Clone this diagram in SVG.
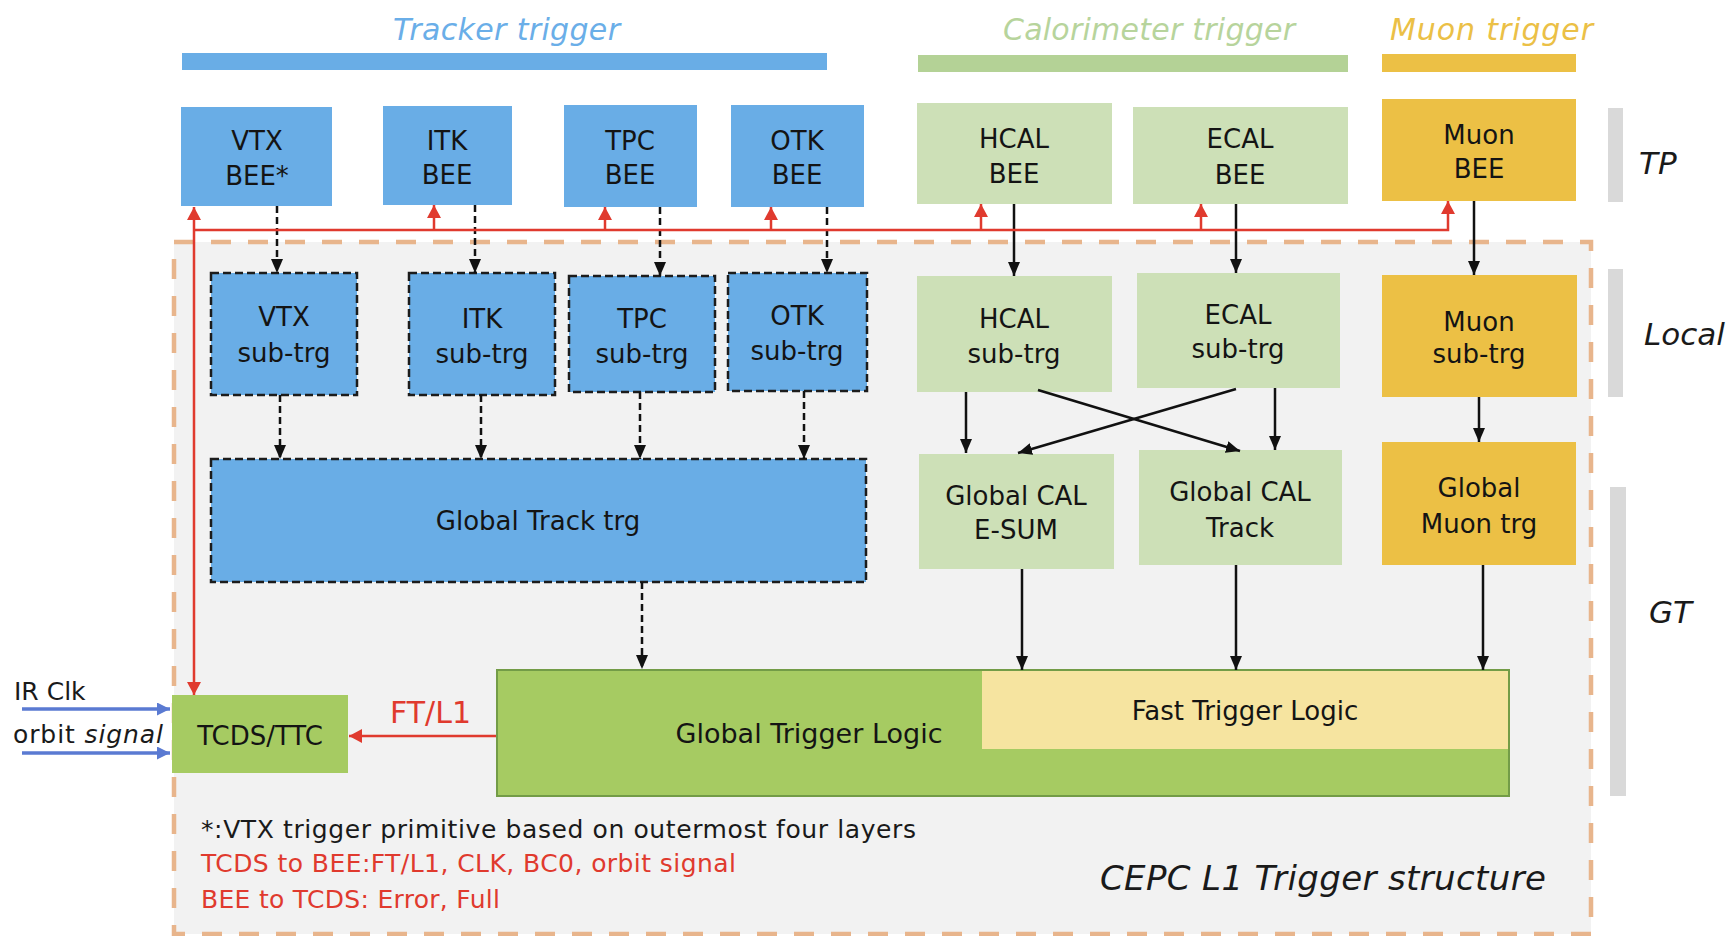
<svg xmlns="http://www.w3.org/2000/svg" width="1731" height="936" viewBox="0 0 1731 936">
  <style>
    .trk { fill: #69ade6; }
    .cal { fill: #cde0b7; }
    .muon { fill: #ecc045; }
    .grn { fill: #a6cb62; }
    .sub { stroke: #1c1c1c; stroke-width: 2.5; stroke-dasharray: 8 4; }
    .lbl { font-family: "DejaVu Sans", "Liberation Sans", sans-serif; font-size: 26px; fill: #141414; text-anchor: middle; }
    .title { font-family: "DejaVu Sans", "Liberation Sans", sans-serif; font-size: 30px; font-style: italic; }
    .side { font-family: "DejaVu Sans", "Liberation Sans", sans-serif; font-size: 31px; font-style: italic; fill: #1a1a1a; }
    .note { font-family: "DejaVu Sans", "Liberation Sans", sans-serif; font-size: 25px; }
    .solid { stroke: #111; stroke-width: 2.5; fill: none; marker-end: url(#ahBlack); }
    .dashed { stroke: #111; stroke-width: 2.5; fill: none; stroke-dasharray: 7 4; marker-end: url(#ahBlack); }
    .red { stroke: #e03a2e; stroke-width: 2.5; fill: none; }
    .blue { stroke: #5a7ad2; stroke-width: 3.5; fill: none; marker-end: url(#ahBlue); }
  </style>
  <defs>
    <marker id="ahBlack" viewBox="0 0 14 12" refX="14" refY="6" markerWidth="14" markerHeight="12" markerUnits="userSpaceOnUse" orient="auto">
      <path d="M0,0 L14,6 L0,12 Z" fill="#111"/>
    </marker>
    <marker id="ahRed" viewBox="0 0 13 14" refX="13" refY="7" markerWidth="13" markerHeight="14" markerUnits="userSpaceOnUse" orient="auto-start-reverse">
      <path d="M0,0 L13,7 L0,14 Z" fill="#e03a2e"/>
    </marker>
    <marker id="ahBlue" viewBox="0 0 13 13" refX="13" refY="6.5" markerWidth="13" markerHeight="13" markerUnits="userSpaceOnUse" orient="auto">
      <path d="M0,0 L13,6.5 L0,13 Z" fill="#5a7ad2"/>
    </marker>
  </defs>

  <rect width="1731" height="936" fill="#ffffff"/>

  <!-- subsystem headers -->
  <g id="header-tracker">
    <text class="title" x="393" y="40" fill="#6aaee8" textLength="227">Tracker trigger</text>
    <rect x="182" y="53" width="645" height="17" fill="#69ade6"/>
  </g>
  <g id="header-calorimeter">
    <text class="title" x="1003" y="40" fill="#b7d49c" textLength="292">Calorimeter trigger</text>
    <rect x="918" y="55" width="430" height="17" fill="#b4d296"/>
  </g>
  <g id="header-muon">
    <text class="title" x="1390" y="40" fill="#ebc046" textLength="203">Muon trigger</text>
    <rect x="1382" y="54" width="194" height="18" fill="#ecc045"/>
  </g>

  <!-- level markers on the right -->
  <g id="level-tp">
    <rect x="1608" y="108" width="15" height="94" fill="#d9d9d9"/>
    <text class="side" x="1639" y="174">TP</text>
  </g>
  <g id="level-local">
    <rect x="1608" y="269" width="15" height="128" fill="#d9d9d9"/>
    <text class="side" x="1644" y="345">Local</text>
  </g>
  <g id="level-gt">
    <rect x="1610" y="487" width="16" height="309" fill="#d9d9d9"/>
    <text class="side" x="1649" y="623">GT</text>
  </g>

  <!-- trigger system boundary -->
  <rect id="l1-boundary" x="174" y="242" width="1417" height="692" fill="#f2f2f2" stroke="#e8b58c" stroke-width="4.5" stroke-dasharray="20 17"/>

  <!-- front-end boards (TP) -->
  <g id="vtx-bee"><rect class="trk" x="181" y="107" width="151" height="99"/>
    <text class="lbl" x="257" y="150">VTX</text><text class="lbl" x="257" y="185">BEE*</text></g>
  <g id="itk-bee"><rect class="trk" x="383" y="106" width="129" height="99"/>
    <text class="lbl" x="447" y="150">ITK</text><text class="lbl" x="447" y="184">BEE</text></g>
  <g id="tpc-bee"><rect class="trk" x="564" y="105" width="133" height="102"/>
    <text class="lbl" x="630" y="150">TPC</text><text class="lbl" x="630" y="184">BEE</text></g>
  <g id="otk-bee"><rect class="trk" x="731" y="105" width="133" height="102"/>
    <text class="lbl" x="797" y="150">OTK</text><text class="lbl" x="797" y="184">BEE</text></g>
  <g id="hcal-bee"><rect class="cal" x="917" y="103" width="195" height="101"/>
    <text class="lbl" x="1014" y="148">HCAL</text><text class="lbl" x="1014" y="183">BEE</text></g>
  <g id="ecal-bee"><rect class="cal" x="1133" y="107" width="215" height="97"/>
    <text class="lbl" x="1240" y="148">ECAL</text><text class="lbl" x="1240" y="184">BEE</text></g>
  <g id="muon-bee"><rect class="muon" x="1382" y="99" width="194" height="102"/>
    <text class="lbl" x="1479" y="144">Muon</text><text class="lbl" x="1479" y="178">BEE</text></g>

  <!-- local sub-triggers -->
  <g id="vtx-sub"><rect class="trk sub" x="211" y="273" width="146" height="122"/>
    <text class="lbl" x="284" y="326">VTX</text><text class="lbl" x="284" y="362">sub-trg</text></g>
  <g id="itk-sub"><rect class="trk sub" x="409" y="273" width="146" height="122"/>
    <text class="lbl" x="482" y="328">ITK</text><text class="lbl" x="482" y="363">sub-trg</text></g>
  <g id="tpc-sub"><rect class="trk sub" x="569" y="276" width="146" height="116"/>
    <text class="lbl" x="642" y="328">TPC</text><text class="lbl" x="642" y="363">sub-trg</text></g>
  <g id="otk-sub"><rect class="trk sub" x="728" y="273" width="139" height="118"/>
    <text class="lbl" x="797" y="325">OTK</text><text class="lbl" x="797" y="360">sub-trg</text></g>
  <g id="hcal-sub"><rect class="cal" x="917" y="276" width="195" height="116"/>
    <text class="lbl" x="1014" y="328">HCAL</text><text class="lbl" x="1014" y="363">sub-trg</text></g>
  <g id="ecal-sub"><rect class="cal" x="1137" y="273" width="203" height="115"/>
    <text class="lbl" x="1238" y="324">ECAL</text><text class="lbl" x="1238" y="358">sub-trg</text></g>
  <g id="muon-sub"><rect class="muon" x="1382" y="275" width="195" height="122"/>
    <text class="lbl" x="1479" y="331">Muon</text><text class="lbl" x="1479" y="363">sub-trg</text></g>

  <!-- global triggers -->
  <g id="global-track"><rect class="trk sub" x="211" y="459" width="655" height="123"/>
    <text class="lbl" x="538" y="530">Global Track trg</text></g>
  <g id="global-cal-esum"><rect class="cal" x="919" y="454" width="195" height="115"/>
    <text class="lbl" x="1016" y="505">Global CAL</text><text class="lbl" x="1016" y="539">E-SUM</text></g>
  <g id="global-cal-track"><rect class="cal" x="1139" y="450" width="203" height="115"/>
    <text class="lbl" x="1240" y="501">Global CAL</text><text class="lbl" x="1240" y="537">Track</text></g>
  <g id="global-muon"><rect class="muon" x="1382" y="442" width="194" height="123"/>
    <text class="lbl" x="1479" y="497">Global</text><text class="lbl" x="1479" y="533">Muon trg</text></g>

  <g id="global-trigger-logic">
    <rect class="grn" x="497" y="670" width="1012" height="126" stroke="#739c47" stroke-width="2"/>
    <text class="lbl" x="809" y="743" style="font-size:27px">Global Trigger Logic</text>
  </g>
  <g id="fast-trigger-logic">
    <rect x="982" y="671" width="526" height="78" fill="#f6e4a0"/>
    <text class="lbl" x="1245" y="720">Fast Trigger Logic</text>
  </g>
  <g id="tcds-ttc">
    <rect class="grn" x="172" y="695" width="176" height="78"/>
    <text class="lbl" x="260" y="745">TCDS/TTC</text>
  </g>

  <!-- connectors -->
  <g id="connectors">
    <!-- tracker path (dashed) -->
    <path class="dashed" d="M277,206 V273"/>
    <path class="dashed" d="M475,205 V273"/>
    <path class="dashed" d="M660,207 V276"/>
    <path class="dashed" d="M827,207 V273"/>
    <path class="dashed" d="M280,395 V459"/>
    <path class="dashed" d="M481,395 V459"/>
    <path class="dashed" d="M640,392 V459"/>
    <path class="dashed" d="M804,391 V459"/>
    <path class="dashed" d="M642,582 V669"/>

    <!-- calorimeter and muon paths -->
    <path class="solid" d="M1014,204 V276"/>
    <path class="solid" d="M1236,204 V273"/>
    <path class="solid" d="M1474,201 V275"/>
    <path class="solid" d="M966,392 V453"/>
    <path class="solid" d="M1275,388 V450"/>
    <path class="solid" d="M1038,390 L1240,451"/>
    <path class="solid" d="M1236,389 L1018,453"/>
    <path class="solid" d="M1479,397 V442"/>
    <path class="solid" d="M1022,569 V670"/>
    <path class="solid" d="M1236,565 V670"/>
    <path class="solid" d="M1483,565 V670"/>

    <!-- TCDS distribution (red) -->
    <path class="red" d="M194,207 V695" marker-start="url(#ahRed)" marker-end="url(#ahRed)"/>
    <path class="red" d="M194,230 H1448 V201" marker-end="url(#ahRed)"/>
    <path class="red" d="M434,230 V205" marker-end="url(#ahRed)"/>
    <path class="red" d="M605,230 V207" marker-end="url(#ahRed)"/>
    <path class="red" d="M771,230 V207" marker-end="url(#ahRed)"/>
    <path class="red" d="M981,230 V204" marker-end="url(#ahRed)"/>
    <path class="red" d="M1201,230 V204" marker-end="url(#ahRed)"/>

    <!-- FT/L1 back to TCDS -->
    <path class="red" d="M496,736 H349" marker-end="url(#ahRed)"/>
    <text x="390" y="723" font-family="DejaVu Sans, Liberation Sans, sans-serif" font-size="30" fill="#e03a2e">FT/L1</text>

    <!-- external inputs -->
    <path class="blue" d="M22,709 H170"/>
    <path class="blue" d="M22,753 H170"/>
    <text x="14" y="700" font-family="DejaVu Sans, Liberation Sans, sans-serif" font-size="25" fill="#1a1a1a">IR Clk</text>
    <text x="13" y="743" font-family="DejaVu Sans, Liberation Sans, sans-serif" font-size="25" fill="#1a1a1a" textLength="150">orbit <tspan font-style="italic">signal</tspan></text>
  </g>

  <!-- notes -->
  <g id="notes">
    <text class="note" x="201" y="838" fill="#1a1a1a" textLength="715">*:VTX trigger primitive based on outermost four layers</text>
    <text class="note" x="201" y="872" fill="#e03a2e" textLength="535">TCDS to BEE:FT/L1, CLK, BC0, orbit signal</text>
    <text class="note" x="201" y="908" fill="#e03a2e" textLength="299">BEE to TCDS: Error, Full</text>
    <text x="1100" y="890" font-family="DejaVu Sans, Liberation Sans, sans-serif" font-size="34" font-style="italic" fill="#1a1a1a" textLength="446">CEPC L1 Trigger structure</text>
  </g>
</svg>
